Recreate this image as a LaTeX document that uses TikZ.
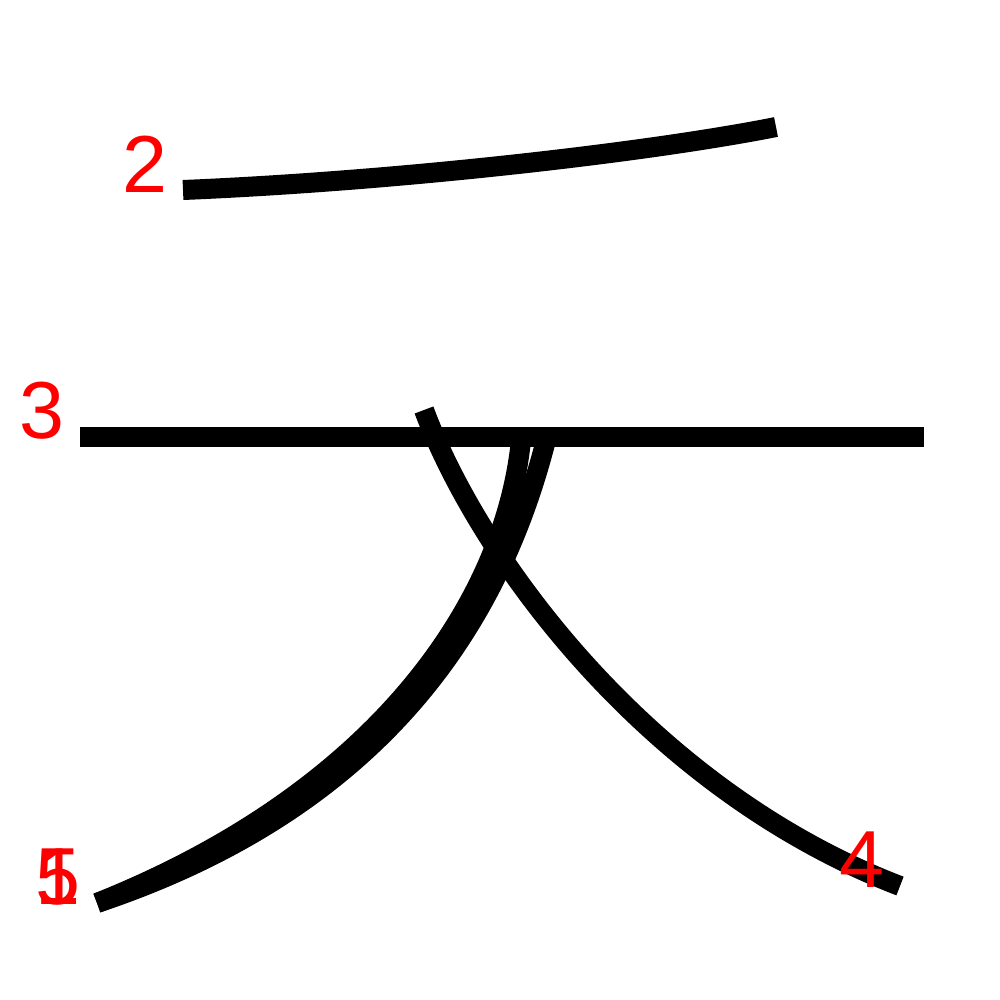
\documentclass[tikz,border=0pt]{standalone}
\usepackage{fontspec}
\newfontfamily\numfont{Liberation Sans}
\begin{document}
\begin{tikzpicture}[x=0.01cm, y=-0.01cm,
        bihua/.style={line width=0.2cm},
        num/.style={red, font=\numfont\fontsize{23}{23}\selectfont, inner sep=0pt}]
        \useasboundingbox (0,0) rectangle (1000,1000);
        
        % 笔画端点 (按原图像素位置)
        \coordinate (S1a) at (521,440);
        \coordinate (S1b) at (97,903);
        \coordinate (S2a) at (183,190);
        \coordinate (S2b) at (776,127);
        \coordinate (S3a) at (80,437);
        \coordinate (S3b) at (924,437);
        \coordinate (S4a) at (424,410);
        \coordinate (S4b) at (900,886);
        \coordinate (S5a) at (546,440);
        \coordinate (S5b) at (97,903);
        
        % 笔画
        \draw[bihua] (S1a) .. controls (505,600) and (380,790) .. (S1b);
        \draw[bihua] (S2a) .. controls (400,181) and (650,152) .. (S2b);
        \draw[bihua] (S3a) -- (S3b);
        \draw[bihua] (S4a) .. controls (480,560) and (650,790) .. (S4b);
        \draw[bihua] (S5a) .. controls (506,596) and (405,800) .. (S5b);
        
        % 笔顺编号
        \node[num] (n1) at (58,877) {1};
        \node[num] (n2) at (145,164) {2};
        \node[num] (n3) at (42,411) {3};
        \node[num] (n4) at (862,860) {4};
        \node[num] (n5) at (58,877) {5};
        
    \end{tikzpicture}
\end{document}
